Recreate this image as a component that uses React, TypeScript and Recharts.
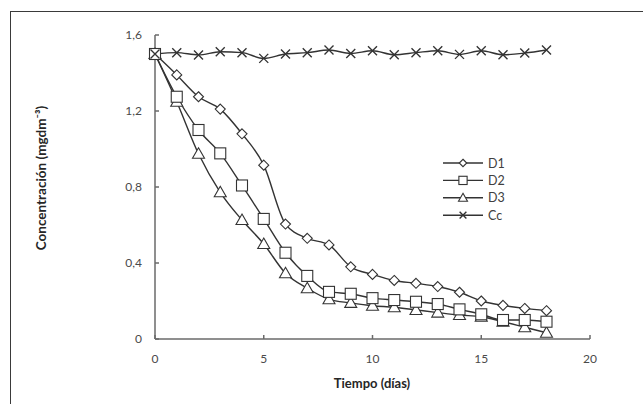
import React from 'react';
import { LineChart, Line, XAxis, YAxis, Legend, Label } from 'recharts';

const days = [0, 1, 2, 3, 4, 5, 6, 7, 8, 9, 10, 11, 12, 13, 14, 15, 16, 17, 18];
const d1 = [1.5, 1.39, 1.275, 1.21, 1.08, 0.915, 0.605, 0.53, 0.495, 0.38, 0.34, 0.308, 0.293, 0.276, 0.246, 0.2, 0.177, 0.161, 0.149];
const d2 = [1.5, 1.275, 1.1, 0.977, 0.808, 0.632, 0.454, 0.332, 0.248, 0.238, 0.215, 0.205, 0.196, 0.184, 0.156, 0.13, 0.1, 0.1, 0.091];
const d3 = [1.5, 1.249, 0.975, 0.772, 0.626, 0.5, 0.346, 0.267, 0.209, 0.19, 0.175, 0.167, 0.153, 0.139, 0.126, 0.117, 0.091, 0.062, 0.033];
const cc = [1.5, 1.507, 1.495, 1.512, 1.507, 1.477, 1.5, 1.507, 1.521, 1.503, 1.517, 1.496, 1.507, 1.517, 1.498, 1.517, 1.496, 1.505, 1.521];

const xTicks = [0, 5, 10, 15, 20];
const yTicks = [0, 0.4, 0.8, 1.2, 1.6];

const seriesNames = ['D1', 'D2', 'D3', 'Cc'];
const seriesShapes = ['diamond', 'square', 'triangle', 'cross'];

const data = days.map((d, i) => ({ day: d, D1: d1[i], D2: d2[i], D3: d3[i], Cc: cc[i] }));

const INK = '#333333';
const FONT = 'Lato, "Open Sans", sans-serif';

function Marker({ shape, cx, cy, k = 1 }: { shape: string; cx: number; cy: number; k?: number }) {
  if (shape === 'diamond') {
    const r = 5 * k;
    return <path d={`M${cx},${cy - r}L${cx + r},${cy}L${cx},${cy + r}L${cx - r},${cy}Z`} fill="#fff" stroke={INK} strokeWidth={1.1} />;
  }
  if (shape === 'square') {
    const r = 5.5 * k;
    return <rect x={cx - r} y={cy - r} width={2 * r} height={2 * r} fill="#fff" stroke={INK} strokeWidth={1.1} />;
  }
  if (shape === 'triangle') {
    const r = 6 * k;
    return <path d={`M${cx},${cy - r}L${cx + r},${cy + r * 0.75}L${cx - r},${cy + r * 0.75}Z`} fill="#fff" stroke={INK} strokeWidth={1.1} />;
  }
  const r = 4.5 * k;
  return (
    <path d={`M${cx - r},${cy - r}L${cx + r},${cy + r}M${cx - r},${cy + r}L${cx + r},${cy - r}`} stroke={INK} strokeWidth={1.4} fill="none" />
  );
}

const makeDot = (shape: string) => (props: any) => {
  const { cx, cy, index } = props;
  if (cx == null || cy == null) return <g key={`n-${shape}-${index}`} />;
  return (
    <g key={`${shape}-${index}`}>
      <Marker shape={shape} cx={cx} cy={cy} />
    </g>
  );
};

const fmtY = (v: number) => (v === 0 ? '0' : v.toFixed(1).replace('.', ','));

function LegendBox() {
  return (
    <svg width={80} height={72} style={{ display: 'block' }}>
      {seriesNames.map((n, i) => {
        const y = 9 + i * 17.4;
        return (
          <g key={n}>
            <line x1={0} x2={40} y1={y} y2={y} stroke={INK} strokeWidth={1.4} />
            <Marker shape={seriesShapes[i]} cx={20} cy={y} k={0.75} />
            <text x={45} y={y + 4.5} fontSize={12.5} fill="#404040" fontFamily={FONT}>
              {n}
            </text>
          </g>
        );
      })}
    </svg>
  );
}

export default function App() {
  return (
    <div style={{ position: 'absolute', left: 0, top: 0, width: 643, height: 404, background: '#fff', overflow: 'hidden' }}>
      <div
        style={{
          position: 'absolute',
          left: 10,
          top: 11,
          width: 640,
          height: 400,
          borderLeft: '1.5px solid #3a3a3a',
          borderTop: '1.5px solid #3a3a3a',
        }}
      />
      <div style={{ position: 'absolute', left: 0, top: 0 }}>
        <LineChart width={643} height={404} data={data} margin={{ top: 35, right: 53, bottom: 0, left: 95 }}>
          <XAxis
            dataKey="day"
            type="number"
            domain={[0, 20]}
            ticks={xTicks}
            tickSize={-4}
            tickMargin={19}
            stroke="#6a6a6a"
            strokeWidth={1.5}
            tick={{ fill: '#4a4a4a', fontSize: 12, fontFamily: FONT }}
            height={65}
          >
            <Label
              content={() => (
                <text x={372} y={388} textAnchor="middle" fontSize={13} fontWeight="bold" fill="#262626" fontFamily={FONT}>
                  Tiempo (días)
                </text>
              )}
            />
          </XAxis>
          <YAxis
            type="number"
            domain={[0, 1.6]}
            ticks={yTicks}
            tickFormatter={fmtY}
            tickSize={-4}
            tickMargin={17}
            stroke="#6a6a6a"
            strokeWidth={1.5}
            tick={{ fill: '#4a4a4a', fontSize: 12, fontFamily: FONT }}
            width={60}
          >
            <Label
              content={() => (
                <text
                  x={46}
                  y={178}
                  transform="rotate(-90 46 178)"
                  textAnchor="middle"
                  fontSize={13.5}
                  fontWeight="bold"
                  fill="#262626"
                  fontFamily={FONT}
                >
                  Concentración (mgdm⁻³)
                </text>
              )}
            />
          </YAxis>
          <Legend
            layout="vertical"
            align="center"
            verticalAlign="middle"
            wrapperStyle={{ position: 'absolute', left: 443, top: 154, width: 80, height: 72 }}
            content={() => <LegendBox />}
          />
          <Line type="monotone" dataKey="D1" stroke={INK} strokeWidth={1.4} dot={makeDot('diamond')} isAnimationActive={false} />
          <Line type="monotone" dataKey="D3" stroke={INK} strokeWidth={1.4} dot={makeDot('triangle')} isAnimationActive={false} />
          <Line type="monotone" dataKey="D2" stroke={INK} strokeWidth={1.4} dot={makeDot('square')} isAnimationActive={false} />
          <Line type="monotone" dataKey="Cc" stroke={INK} strokeWidth={1.4} dot={makeDot('cross')} isAnimationActive={false} />
        </LineChart>
      </div>
    </div>
  );
}
